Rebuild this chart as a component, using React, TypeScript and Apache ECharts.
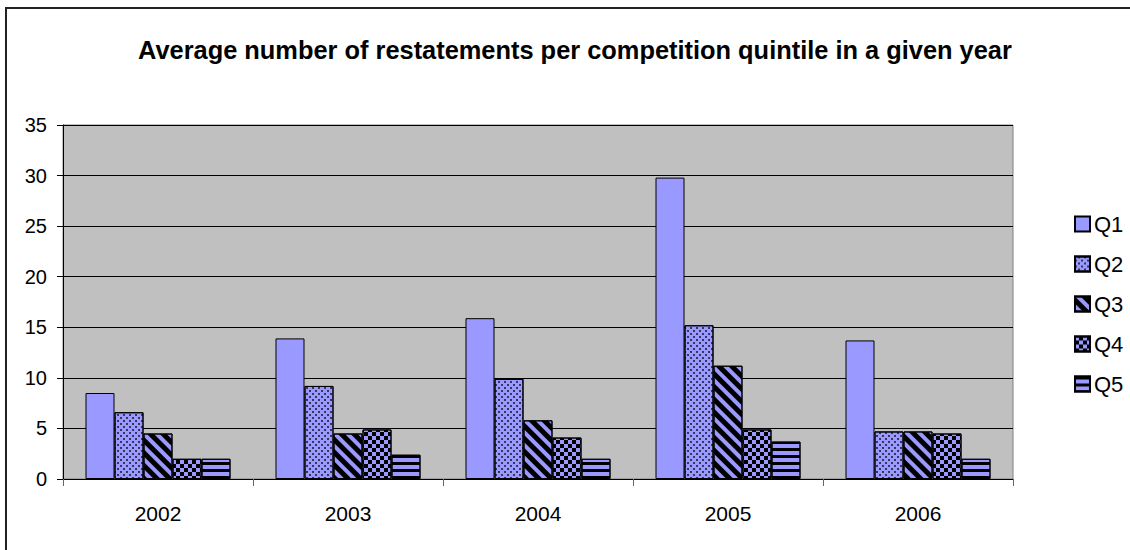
import React, { useEffect, useRef } from "react";
import * as echarts from "echarts";

const title = "Average number of restatements per competition quintile in a given year";
const years = ["2002", "2003", "2004", "2005", "2006"];
const seriesNames = ["Q1", "Q2", "Q3", "Q4", "Q5"];
const q1 = [8.5, 13.9, 15.9, 29.8, 13.7];
const q2 = [6.6, 9.2, 9.9, 15.2, 4.7];
const q3 = [4.5, 4.5, 5.8, 11.2, 4.7];
const q4 = [2.0, 4.9, 4.1, 4.9, 4.5];
const q5 = [2.0, 2.4, 2.0, 3.7, 2.0];
const yTicks = [0, 5, 10, 15, 20, 25, 30, 35];

const FILL = "#9999FF";
const FONT = "Liberation Sans, Arial, sans-serif";

const decals: any[] = [
  null,
  {
    symbol: "circle",
    symbolSize: 0.8,
    color: "#000",
    dashArrayX: [[2, 4], [0, 3, 2, 1]],
    dashArrayY: [2, 1],
    rotation: 0,
  },
  {
    symbol: "rect",
    symbolSize: 1,
    color: "#000",
    dashArrayX: [1, 0],
    dashArrayY: [5, 4],
    rotation: Math.PI / 4,
  },
  {
    symbol: "rect",
    symbolSize: 1,
    color: "#000",
    dashArrayX: [[4, 4], [0, 4, 4, 0]],
    dashArrayY: [4, 0],
    rotation: 0,
  },
  {
    symbol: "rect",
    symbolSize: 1,
    color: "#000",
    dashArrayX: [1, 0],
    dashArrayY: [3, 4],
    rotation: 0,
  },
];

export default function App() {
  const ref = useRef<HTMLDivElement>(null);
  useEffect(() => {
    if (!ref.current) return;
    const chart = echarts.init(ref.current, undefined, { renderer: "svg" });
    const data = [q1, q2, q3, q4, q5];
    chart.setOption({
      animation: false,
      backgroundColor: "#fff",
      title: {
        text: title,
        left: 133,
        top: 32,
        textStyle: { fontFamily: FONT, fontSize: 25.4, fontWeight: "bold", color: "#000" },
      },
      legend: {
        orient: "vertical",
        left: 1069,
        top: 206,
        itemWidth: 15,
        itemHeight: 15,
        itemGap: 14,
        icon: "rect",
        data: seriesNames,
        textStyle: { fontFamily: FONT, fontSize: 22, color: "#000", lineHeight: 26, padding: [0, 0, 0, -1] },
      },
      graphic: [
        {
          type: "rect",
          shape: { x: 6, y: 8, width: 1300, height: 700 },
          style: { fill: "none", stroke: "#222", lineWidth: 2 },
          silent: true,
        },
      ],
      grid: {
        left: 63,
        right: 117,
        top: 125,
        bottom: 71,
        backgroundColor: "#C0C0C0",
        show: true,
        borderColor: "#808080",
        borderWidth: 1,
      },
      xAxis: {
        type: "category",
        data: years,
        axisLine: { lineStyle: { color: "#000", width: 1 } },
        axisTick: { show: true, inside: false, length: 7, alignWithLabel: false, lineStyle: { color: "#666" } },
        axisLabel: { fontFamily: FONT, fontSize: 21, color: "#000", margin: 24 },
      },
      yAxis: {
        type: "value",
        min: 0,
        max: 35,
        interval: 5,
        axisLine: { show: true, lineStyle: { color: "#000", width: 1 } },
        axisTick: { show: true, length: 6, lineStyle: { color: "#000" } },
        splitLine: { show: true, lineStyle: { color: "#000", width: 1 } },
        axisLabel: {
          fontFamily: FONT,
          fontSize: 20,
          color: "#000",
          margin: 16,
          formatter: (v: number) => (yTicks.includes(v) ? String(v) : ""),
        },
      },
      series: seriesNames.map((name, i) => ({
        name,
        type: "bar",
        data: data[i],
        barWidth: 29,
        barGap: "0%",
        itemStyle: {
          color: FILL,
          borderColor: "#000",
          borderWidth: 1,
          ...(decals[i] ? { decal: decals[i] } : {}),
        },
      })),
    });
    return () => chart.dispose();
  }, []);
  return (
    <div style={{ position: "absolute", left: 0, top: 0, width: 1130, height: 550, overflow: "hidden" }}>
      <div ref={ref} style={{ width: 1130, height: 550 }} />
    </div>
  );
}
